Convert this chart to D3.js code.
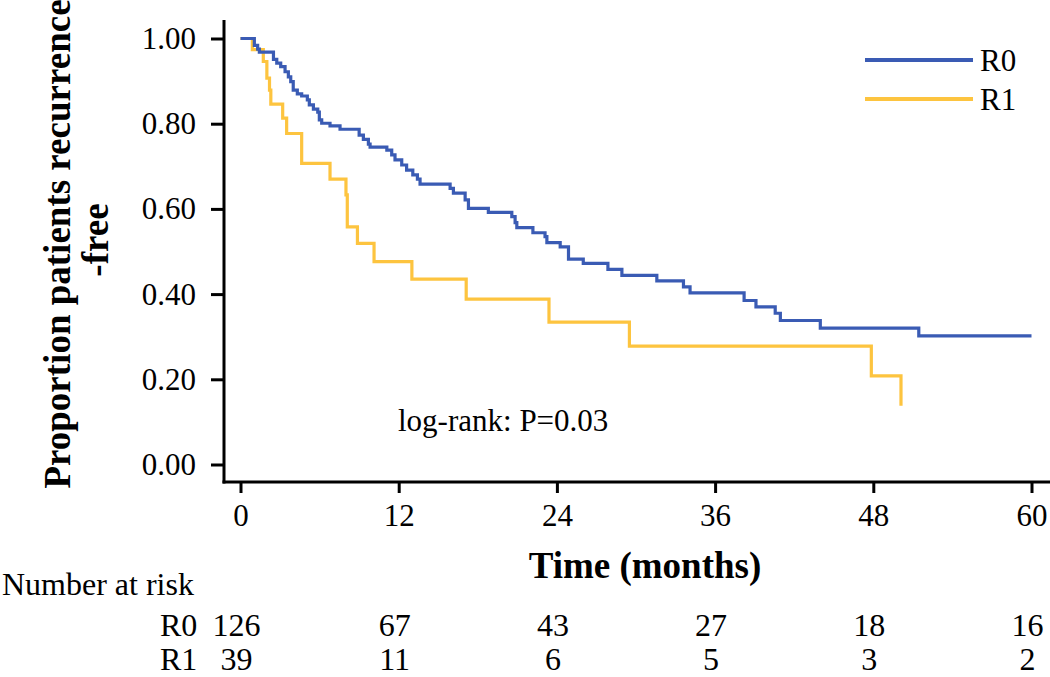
<!DOCTYPE html>
<html>
<head>
<meta charset="utf-8">
<script src="https://cdn.jsdelivr.net/npm/d3@7/dist/d3.min.js"></script>
<style>
  html, body { margin: 0; padding: 0; background: #fff; }
  svg { display: block; }
  text { font-family: "Liberation Serif", "Times New Roman", serif; fill: #000; }
</style>
</head>
<body>
<svg id="chart" width="1050" height="677"></svg>
<script>
// ---- Data ----
const groups = ["R0", "R1"];
const groupColors = ["#3a5bb4", "#fdc43f"];

// Kaplan-Meier step points (time in months, proportion recurrence-free)
const r0Times = [0, 1.05, 1.3, 1.43, 2.5, 2.75, 3.05, 3.38, 3.63, 3.81, 4.0, 4.31, 4.64, 5.07, 5.22, 5.53, 5.86, 5.98, 6.16, 6.79, 7.55, 9.0, 9.32, 9.7, 9.83, 11.1, 11.47, 11.72, 12.23, 12.6, 13.07, 13.42, 13.62, 15.9, 16.15, 17.04, 17.29, 18.8, 20.58, 20.83, 20.96, 22.18, 23.1, 23.24, 24.25, 24.88, 26.0, 27.87, 28.93, 31.58, 33.6, 34.1, 38.2, 39.1, 40.56, 40.95, 43.98, 51.45, 60];
const r0Surv  = [1.0, 0.984, 0.975, 0.968, 0.951, 0.942, 0.934, 0.922, 0.910, 0.899, 0.879, 0.870, 0.865, 0.856, 0.844, 0.834, 0.827, 0.809, 0.801, 0.795, 0.787, 0.773, 0.763, 0.752, 0.745, 0.738, 0.727, 0.715, 0.703, 0.691, 0.680, 0.670, 0.658, 0.648, 0.637, 0.621, 0.601, 0.592, 0.582, 0.568, 0.556, 0.544, 0.535, 0.521, 0.511, 0.482, 0.472, 0.458, 0.444, 0.431, 0.417, 0.403, 0.385, 0.370, 0.355, 0.338, 0.320, 0.302, 0.302];

const r1Times = [0, 0.9, 1.73, 2.0, 2.2, 2.3, 3.2, 3.5, 4.64, 6.79, 8.0, 8.1, 8.87, 10.13, 13.0, 17.12, 23.4, 29.5, 47.85, 50.1];
const r1Surv  = [1.0, 0.974, 0.946, 0.907, 0.879, 0.846, 0.813, 0.777, 0.707, 0.670, 0.633, 0.558, 0.519, 0.476, 0.435, 0.388, 0.334, 0.278, 0.208, 0.138];

const xTicks = [0, 12, 24, 36, 48, 60];
const yTicks = [0, 0.2, 0.4, 0.6, 0.8, 1.0];
const riskR0 = [126, 67, 43, 27, 18, 16];
const riskR1 = [39, 11, 6, 5, 3, 2];

const yLabel1 = "Proportion patients recurrence";
const yLabel2 = "-free";
const xLabel = "Time (months)";
const annotation = "log-rank: P=0.03";

// ---- Drawing ----
const svg = d3.select("#chart");
const x = d3.scaleLinear().domain([0, 60]).range([240.5, 1031.5]);
const y = d3.scaleLinear().domain([0, 1]).range([464.5, 38.5]);

const axisX = 224, axisY = 482;

// Axes lines
svg.append("line").attr("x1", axisX).attr("x2", axisX).attr("y1", 20).attr("y2", axisY + 1.5)
  .attr("stroke", "#000").attr("stroke-width", 3);
svg.append("line").attr("x1", axisX - 1.5).attr("x2", 1050).attr("y1", axisY).attr("y2", axisY)
  .attr("stroke", "#000").attr("stroke-width", 3);

// Y axis via d3
const yAxisG = svg.append("g").attr("transform", `translate(${axisX},0)`)
  .call(d3.axisLeft(y).tickValues(yTicks).tickFormat(d3.format(".2f")).tickSize(13).tickPadding(15));
yAxisG.select(".domain").remove();
yAxisG.selectAll(".tick line").attr("stroke", "#000").attr("stroke-width", 3);
yAxisG.selectAll(".tick text").style("font-family", "'Liberation Serif', serif").style("font-size", "31px").attr("fill", "#000");

// X axis via d3
const xAxisG = svg.append("g").attr("transform", `translate(0,${axisY})`)
  .call(d3.axisBottom(x).tickValues(xTicks).tickFormat(d3.format("d")).tickSize(11).tickPadding(11));
xAxisG.select(".domain").remove();
xAxisG.selectAll(".tick line").attr("stroke", "#000").attr("stroke-width", 3);
xAxisG.selectAll(".tick text").style("font-family", "'Liberation Serif', serif").style("font-size", "31px").attr("fill", "#000");

// Curves
const line = d3.line().x(d => x(d[0])).y(d => y(d[1])).curve(d3.curveStepAfter);
const r1Data = r1Times.map((t, i) => [t, r1Surv[i]]);
const r0Data = r0Times.map((t, i) => [t, r0Surv[i]]);
svg.append("path").datum(r1Data).attr("d", line).attr("fill", "none")
  .attr("stroke", groupColors[1]).attr("stroke-width", 3.2);
svg.append("path").datum(r0Data).attr("d", line).attr("fill", "none")
  .attr("stroke", groupColors[0]).attr("stroke-width", 3.2);

// Legend
const legendY = [60, 99];
groups.forEach((g, i) => {
  svg.append("line").attr("x1", 865).attr("x2", 973).attr("y1", legendY[i]).attr("y2", legendY[i])
    .attr("stroke", groupColors[i]).attr("stroke-width", 4);
  svg.append("text").attr("x", 980).attr("y", legendY[i] + 11).style("font-size", "31px").text(g);
});

// Annotation
svg.append("text").attr("x", 398).attr("y", 431).style("font-size", "31px").text(annotation);

// Axis titles
svg.append("text").attr("x", 645).attr("y", 578).attr("text-anchor", "middle")
  .style("font-size", "37px").style("font-weight", "bold").text(xLabel);
svg.append("text").attr("transform", "translate(70,244) rotate(-90)").attr("text-anchor", "middle")
  .style("font-size", "37px").style("font-weight", "bold").text(yLabel1);
svg.append("text").attr("transform", "translate(108,240) rotate(-90)").attr("text-anchor", "middle")
  .style("font-size", "37px").style("font-weight", "bold").text(yLabel2);

// Number at risk table
svg.append("text").attr("x", 2).attr("y", 595).style("font-size", "32px").text("Number at risk");
const rowY = [636, 670];
[riskR0, riskR1].forEach((row, i) => {
  svg.append("text").attr("x", 160).attr("y", rowY[i]).style("font-size", "32px").text(groups[i]);
  svg.selectAll(null).data(row).enter().append("text")
    .attr("x", (d, j) => x(xTicks[j]) - 4).attr("y", rowY[i]).attr("text-anchor", "middle")
    .style("font-size", "32px").text(d => d);
});
</script>
</body>
</html>
